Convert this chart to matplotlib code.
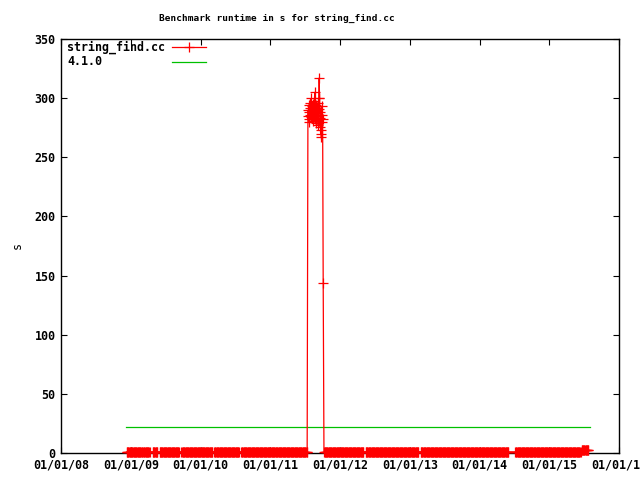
import numpy as np
import pandas as pd
import matplotlib
matplotlib.use('Agg')
import matplotlib.pyplot as plt
import matplotlib.dates as mdates

# low-runtime stretches: (first run, last run, runtime in s)
low_segments = [
    ('2008-12-10', '2009-03-05', 0.8),
    ('2009-03-10', '2009-04-10', 0.8),
    ('2009-04-25', '2009-05-21', 0.8),
    ('2009-05-31', '2009-09-12', 0.8),
    ('2009-09-23', '2010-03-04', 0.8),
    ('2010-03-14', '2010-07-23', 0.8),
    ('2010-08-02', '2011-06-28', 0.8),
    ('2011-07-01', '2011-07-13', 1.2),
]
# slowdown period
spike_dates = pd.date_range('2011-07-17', '2011-10-02', periods=48)
spike_vals = [285, 290, 282, 294, 288, 280, 292, 286, 296, 284,
              290, 300, 283, 289, 293, 281, 287, 295, 284, 291,
              298, 286, 282, 305, 290, 288, 294, 279, 285, 292,
              288, 296, 283, 277, 291, 300, 317, 300, 288, 276,
              283, 270, 273, 267, 280, 293, 286, 282]
drop_date, drop_val = '2011-10-05', 144
low_segments_after = [
    ('2011-10-09', '2012-05-05', 0.8),
    ('2012-05-15', '2013-02-16', 0.8),
    ('2013-02-27', '2014-06-01', 0.8),
    ('2014-07-07', '2015-06-16', 0.8),
    ('2015-06-19', '2015-07-25', 2.8),
]
ref_version = '4.1.0'
ref_value = 22
ref_span = ('2008-12-06', '2015-08-03')


def expand(segs):
    d, v = [], []
    for s, e, val in segs:
        r = pd.date_range(s, e, freq='3D')
        d.extend(r)
        v.extend([val] * len(r))
    return d, v


d1, v1 = expand(low_segments)
d2, v2 = expand(low_segments_after)
dates = d1 + list(spike_dates) + [pd.Timestamp(drop_date)] + d2
vals = v1 + spike_vals + [drop_val] + v2

plt.rcParams['font.family'] = 'DejaVu Sans Mono'
plt.rcParams['font.weight'] = 'bold'

fig = plt.figure(figsize=(6.4, 4.8), dpi=100)
ax = fig.add_axes([61/640, 27/480, 558/640, 414/480])

red, green = '#ff0000', '#00c000'
lw = 0.9
ax.plot(dates, vals, color=red, lw=lw, marker='+', ms=6.6, mew=lw,
        clip_on=False, zorder=3)
ax.plot(pd.to_datetime(list(ref_span)), [ref_value, ref_value],
        color=green, lw=lw)

ax.set_xlim(pd.Timestamp('2008-01-01'), pd.Timestamp('2016-01-01'))
ax.set_ylim(0, 350)
ax.xaxis.set_major_locator(mdates.YearLocator())
ax.xaxis.set_major_formatter(mdates.DateFormatter('%m/%d/%y'))
ax.set_yticks(np.arange(0, 351, 50))
ax.tick_params(direction='in', length=4, width=0.8, labelsize=8.4,
               top=True, right=True, pad=4)
for s in ax.spines.values():
    s.set_linewidth(1)

ax.set_ylabel('s', fontsize=8.4, labelpad=8)
fig.text(277/640, 1 - 18/480, 'Benchmark runtime in s for string_find.cc',
         fontsize=6.8, ha='center', va='center')

# legend, drawn the way the reference lays it out
lx0, lx1 = (172 - 61)/558, (206 - 61)/558
for label, col, y, mk in [('string_find.cc', red, (453 - 47)/414, True),
                          (ref_version, green, (453 - 62)/414, False)]:
    ax.text(6/558, y, label, transform=ax.transAxes, fontsize=8.4,
            ha='left', va='center')
    ax.plot([lx0, lx1], [y, y], transform=ax.transAxes, color=col, lw=lw)
    if mk:
        ax.plot([(lx0 + lx1)/2], [y], transform=ax.transAxes, color=col,
                marker='+', ms=6.6, mew=lw)

fig.savefig('out.png', dpi=100)
